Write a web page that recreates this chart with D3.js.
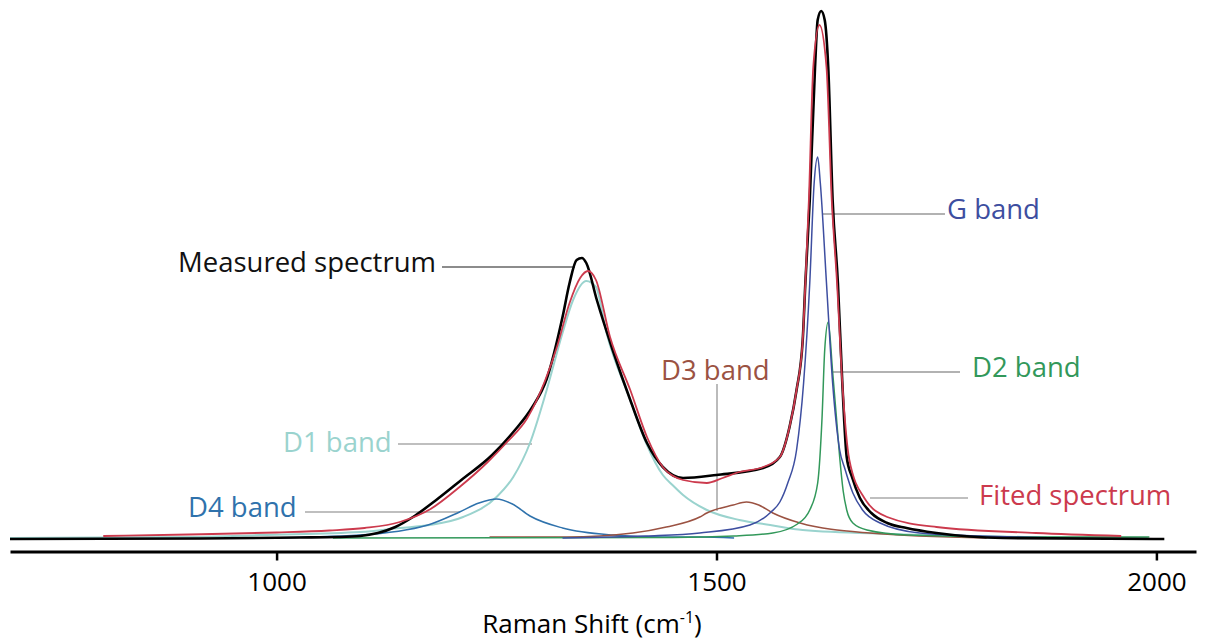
<!DOCTYPE html>
<html>
<head>
<meta charset="utf-8">
<script src="https://cdn.jsdelivr.net/npm/d3@7"></script>
<style>
  html, body { margin: 0; padding: 0; background: #fff; }
  svg { display: block; }
  text { font-family: "Open Sans", "Noto Sans", sans-serif; }
</style>
</head>
<body>
<svg id="chart" width="1220" height="643"></svg>
<script>
// ---------------- data (Raman shift in cm^-1, intensity in a.u.) ----------------
const xTickValues = [1000, 1500, 2000];
const axisTitle = "Raman Shift (cm";
const axisTitleSup = "-1";

const measured = [
  [697,0],[913,0.5],[1026,1.5],[1070,2],[1095,3],[1115,6],[1135,12],[1155,22],[1180,38],
  [1210,59],[1245,84],[1270,108],[1290,131],[1307,160],[1325,222],[1333,256],[1341,279],
  [1347,281],[1352,276],[1364,239],[1382,189],[1402,139],[1421,96],[1439,72],[1462,61],
  [1500,64],[1553,71],[1572,82],[1583,112],[1591,149],[1598,199],[1601,256],[1606,339],
  [1612,472],[1615,519],[1619,528],[1623,519],[1627,472],[1632,339],[1638,256],[1643,156],
  [1648,82],[1654,62],[1663,41],[1676,26],[1694,16],[1716,11],[1750,6],[1826,1],[2009,0]
];
const fitted = [
  [803,3],[900,4.5],[1000,6.5],[1060,8.5],[1100,11],[1140,17],[1175,30],[1208,52],[1240,77],
  [1262,97],[1285,121],[1305,158],[1319,193],[1333,236],[1345,261],[1354,268],[1363,259],
  [1379,202],[1402,149],[1421,102],[1439,72],[1462,59],[1489,56],[1507,61],[1526,67],
  [1553,72],[1572,82],[1583,112],[1591,149],[1598,199],[1601,256],[1605,339],[1610,472],
  [1617,514],[1625,472],[1631,339],[1637,256],[1643,156],[1651,79],[1668,41],[1694,22],
  [1750,12],[1863,6],[1960,3]
];
const d1Band = [
  [697,1],[913,2],[981,4],[1095,7],[1140,11],[1174,14],[1212,22],[1250,42],[1269,62],
  [1288,96],[1307,149],[1325,206],[1337,239],[1352,258],[1363,252],[1375,206],[1402,139],
  [1420,96],[1439,64],[1450,54],[1462,44],[1489,29],[1526,19],[1561,14],[1598,9],
  [1700,5],[1850,2],[1990,1]
];
const d4Band = [
  [985,1],[1095,4],[1172,14],[1208,27],[1230,36],[1250,40],[1268,35],[1288,23],[1325,11],
  [1382,4],[1439,2],[1481,2],[1520,1]
];
const d3Band = [
  [1242,2],[1330,2],[1405,6],[1443,12],[1481,22],[1489,26],[1519,34],[1534,37],[1548,34],
  [1564,26],[1595,16],[1674,6],[1807,1]
];
const gBand = [
  [1325,1],[1420,3],[1481,6],[1538,14],[1562,27],[1572,37],[1581,56],[1591,89],[1599,156],
  [1606,256],[1611,356],[1615,382],[1618,356],[1625,256],[1632,156],[1640,89],[1646,70],
  [1655,46],[1666,29],[1686,16],[1731,6],[1800,3],[1890,1]
];
const d2Band = [
  [1064,1],[1450,1.5],[1520,3],[1564,6],[1592,15],[1606,29],[1615,56],[1620,122],[1623,189],
  [1627,217],[1632,167],[1636,125],[1640,82],[1644,48],[1648,29],[1655,16],[1671,9],
  [1717,4],[1845,2],[1992,2]
];

// ---------------- layout / style ----------------
const svg = d3.select("#chart");
const x = d3.scaleLinear().domain([697, 2045]).range([10, 1196]);
const y = d3.scaleLinear().domain([0, 528]).range([539, 11]);

const series = [
  { data: d1Band,   color: "#9ad3ce", width: 2.0 },
  { data: d4Band,   color: "#2f72ac", width: 1.5 },
  { data: d3Band,   color: "#9b5242", width: 1.5 },
  { data: d2Band,   color: "#32985a", width: 1.5 },
  { data: gBand,    color: "#3d4ea0", width: 1.5 },
  { data: measured, color: "#000000", width: 2.6 },
  { data: fitted,   color: "#cc3a4d", width: 1.8 }
];

// callouts: label text, colour, label anchor (px), leader line (px)
const callouts = [
  { text: "Measured spectrum", color: "#111111", tx: 178, ty: 272, line: [[442,267],[575,267]], lc: "#666" },
  { text: "D1 band",  color: "#9ad3ce", tx: 283, ty: 452, line: [[398,444],[532,444]], lc: "#aaa" },
  { text: "D4 band",  color: "#2f72ac", tx: 188, ty: 517, line: [[305,512],[460,512]], lc: "#aaa" },
  { text: "D3 band",  color: "#9b5242", tx: 661, ty: 380, line: [[717,384],[717,511]], lc: "#aaa" },
  { text: "G band",   color: "#3d4ea0", tx: 947, ty: 219, line: [[823,214],[945,214]], lc: "#999" },
  { text: "D2 band",  color: "#32985a", tx: 972, ty: 377, line: [[833,372],[960,372]], lc: "#999" },
  { text: "Fited spectrum", color: "#cc3a4d", tx: 979, ty: 505, line: [[870,498],[968,498]], lc: "#aaa" }
];

// leader lines (behind curves)
svg.append("g").selectAll("line").data(callouts).join("line")
  .attr("x1", d => d.line[0][0]).attr("y1", d => d.line[0][1])
  .attr("x2", d => d.line[1][0]).attr("y2", d => d.line[1][1])
  .attr("stroke", d => d.lc).attr("stroke-width", 1.6);

// curves
const line = d3.line().x(d => x(d[0])).y(d => y(d[1])).curve(d3.curveMonotoneX);
svg.append("g").selectAll("path").data(series).join("path")
  .attr("d", d => line(d.data))
  .attr("fill", "none")
  .attr("stroke", d => d.color)
  .attr("stroke-width", d => d.width)
  .attr("stroke-linejoin", "round");

// labels
svg.append("g").selectAll("text").data(callouts).join("text")
  .attr("x", d => d.tx).attr("y", d => d.ty)
  .attr("fill", d => d.color)
  .attr("font-size", 27.5)
  .text(d => d.text);

// x axis
const xAxis = d3.axisBottom(x).tickValues(xTickValues).tickFormat(d3.format("d"))
  .tickSize(9).tickSizeOuter(0).tickPadding(12);
const gx = svg.append("g").attr("transform", "translate(0,551.5)").call(xAxis);
gx.select(".domain").attr("stroke", "#000").attr("stroke-width", 3);
gx.selectAll(".tick line").attr("stroke", "#000").attr("stroke-width", 2.5);
gx.selectAll(".tick text").attr("fill", "#000").attr("font-size", 26)
  .attr("font-family", "\"Open Sans\", sans-serif");

// axis title
const t = svg.append("text").attr("x", 592).attr("y", 633).attr("text-anchor", "middle")
  .attr("font-size", 26).attr("fill", "#000");
t.append("tspan").text(axisTitle);
t.append("tspan").attr("font-size", 16).attr("dy", -10).text(axisTitleSup);
t.append("tspan").attr("dy", 10).text(")");
</script>
</body>
</html>
